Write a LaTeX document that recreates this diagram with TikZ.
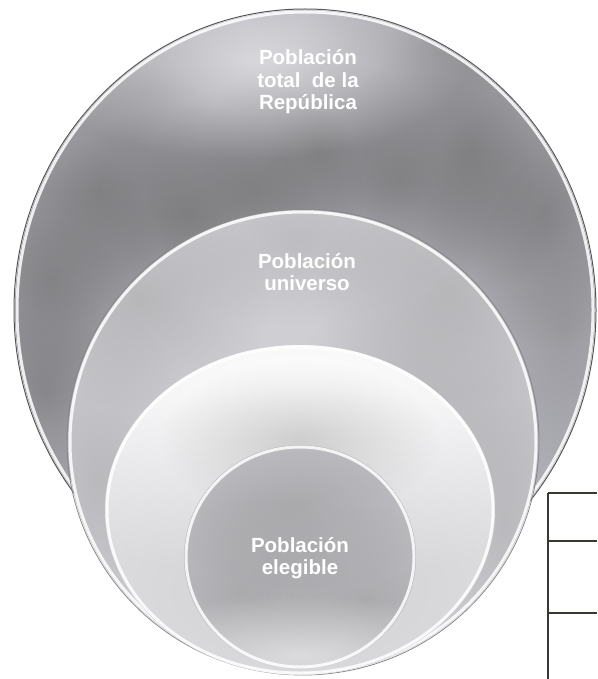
\documentclass[tikz,border=0pt]{standalone}
\usepackage{fontspec}
\setmainfont{Liberation Sans}
\usetikzlibrary{fadings}
\definecolor{bigc}{HTML}{B2B2BA}
\definecolor{univc}{HTML}{CECED3}
\definecolor{whitec}{HTML}{E4E4E8}
\definecolor{elegc}{HTML}{C2C2C7}
\definecolor{rimdark}{HTML}{55555C}
\definecolor{tablec}{HTML}{3A3632}
\tikzfading[name=softblob, inner color=transparent!0, outer color=transparent!100]
\tikzset{
  blob/.style={fill=#1, path fading=softblob},
  rim/.style={draw=white, line width=3pt, draw opacity=0.85},
  label/.style={text=white, font=\bfseries\fontsize{20.5}{22.5}\selectfont, align=center, inner sep=0pt},
  tabline/.style={draw=tablec, line width=1.6pt}
}
\begin{document}
\begin{tikzpicture}[x=1pt,y=-1pt]
\useasboundingbox (0,0) rectangle (597,679);
\fill[white] (0,0) rectangle (597,679);
% big circle
\path[fill=bigc] (305,310) ellipse [x radius=290, y radius=300];
\begin{scope}
\clip (305,310) ellipse [x radius=290, y radius=300];
\fill[blob=black!60, fill opacity=0.5] (100,190) ellipse [x radius=150, y radius=135];
\fill[blob=black!60, fill opacity=0.5] (185,215) ellipse [x radius=135, y radius=110];
\fill[blob=black!60, fill opacity=0.45] (255,190) ellipse [x radius=110, y radius=110];
\fill[blob=black!60, fill opacity=0.5] (320,150) ellipse [x radius=120, y radius=95];
\fill[blob=black!60, fill opacity=0.45] (400,180) ellipse [x radius=135, y radius=110];
\fill[blob=black!60, fill opacity=0.5] (470,150) ellipse [x radius=120, y radius=145];
\fill[blob=black!60, fill opacity=0.5] (545,215) ellipse [x radius=120, y radius=135];
\fill[blob=black!60, fill opacity=0.45] (50,280) ellipse [x radius=110, y radius=145];
\fill[blob=black!60, fill opacity=0.5] (45,390) ellipse [x radius=110, y radius=170];
\fill[blob=black!55, fill opacity=0.4] (440,50) ellipse [x radius=145, y radius=85];
\fill[blob=black!55, fill opacity=0.35] (565,330) ellipse [x radius=95, y radius=185];
\fill[blob=black!55, fill opacity=0.35] (150,90) ellipse [x radius=120, y radius=100];
\fill[blob=white, fill opacity=0.5] (250,60) ellipse [x radius=220, y radius=100];
\end{scope}
\draw[rimdark, line width=1pt] (305,310) ellipse [x radius=291, y radius=301];
\draw[rim] (305,310) ellipse [x radius=288, y radius=298];
% universe circle
\path[fill=univc] (303,442) ellipse [x radius=235, y radius=232];
\begin{scope}
\clip (303,442) ellipse [x radius=235, y radius=232];
\fill[blob=black!45, fill opacity=0.35] (140,300) ellipse [x radius=130, y radius=110];
\fill[blob=black!45, fill opacity=0.35] (450,290) ellipse [x radius=135, y radius=120];
\fill[blob=black!45, fill opacity=0.3] (420,410) ellipse [x radius=145, y radius=120];
\fill[blob=black!45, fill opacity=0.3] (100,480) ellipse [x radius=100, y radius=170];
\fill[blob=black!45, fill opacity=0.3] (505,520) ellipse [x radius=100, y radius=170];
\fill[blob=black!45, fill opacity=0.25] (300,240) ellipse [x radius=150, y radius=85];
\end{scope}
\draw[rimdark!70, line width=0.8pt] (303,442) ellipse [x radius=236, y radius=233];
\draw[rim] (303,442) ellipse [x radius=233, y radius=230];
% white circle
\path[fill=whitec] (300,510) ellipse [x radius=195, y radius=165];
\begin{scope}
\clip (300,510) ellipse [x radius=195, y radius=165];
\fill[blob=white] (300,390) ellipse [x radius=400, y radius=190];
\fill[blob=black!40, fill opacity=0.4] (300,440) ellipse [x radius=140, y radius=80];
\fill[blob=black!35, fill opacity=0.3] (300,590) ellipse [x radius=360, y radius=200];
\end{scope}
\draw[rim] (300,510) ellipse [x radius=193, y radius=163];
% elegible circle
\path[fill=elegc] (300,557) ellipse [x radius=116, y radius=112];
\begin{scope}
\clip (300,557) ellipse [x radius=116, y radius=112];
\fill[blob=black!50, fill opacity=0.35] (300,505) ellipse [x radius=150, y radius=85];
\fill[blob=black!50, fill opacity=0.35] (240,590) ellipse [x radius=110, y radius=110];
\fill[blob=black!50, fill opacity=0.35] (365,600) ellipse [x radius=120, y radius=95];
\fill[blob=white, fill opacity=0.5] (300,655) ellipse [x radius=190, y radius=60];
\end{scope}
\draw[rim] (300,557) ellipse [x radius=114, y radius=110];
% labels
\node[label] (total) at (308,82) {Población\\total\ \ de la\\República};
\node[label] (univ) at (307,272) {Población\\universo};
\node[label] (eleg) at (300,558) {Población\\elegible};
% table on the right
\coordinate (t1) at (548,493);
\coordinate (t2) at (548,541);
\coordinate (t3) at (548,613);
\coordinate (tb) at (548,679);
\coordinate (r1) at (597,493);
\coordinate (r2) at (597,541);
\coordinate (r3) at (597,613);
\draw[tabline] (t1) -- (tb);
\draw[tabline] (t1) -- (r1);
\draw[tabline] (t2) -- (r2);
\draw[tabline] (t3) -- (r3);
\end{tikzpicture}
\end{document}
